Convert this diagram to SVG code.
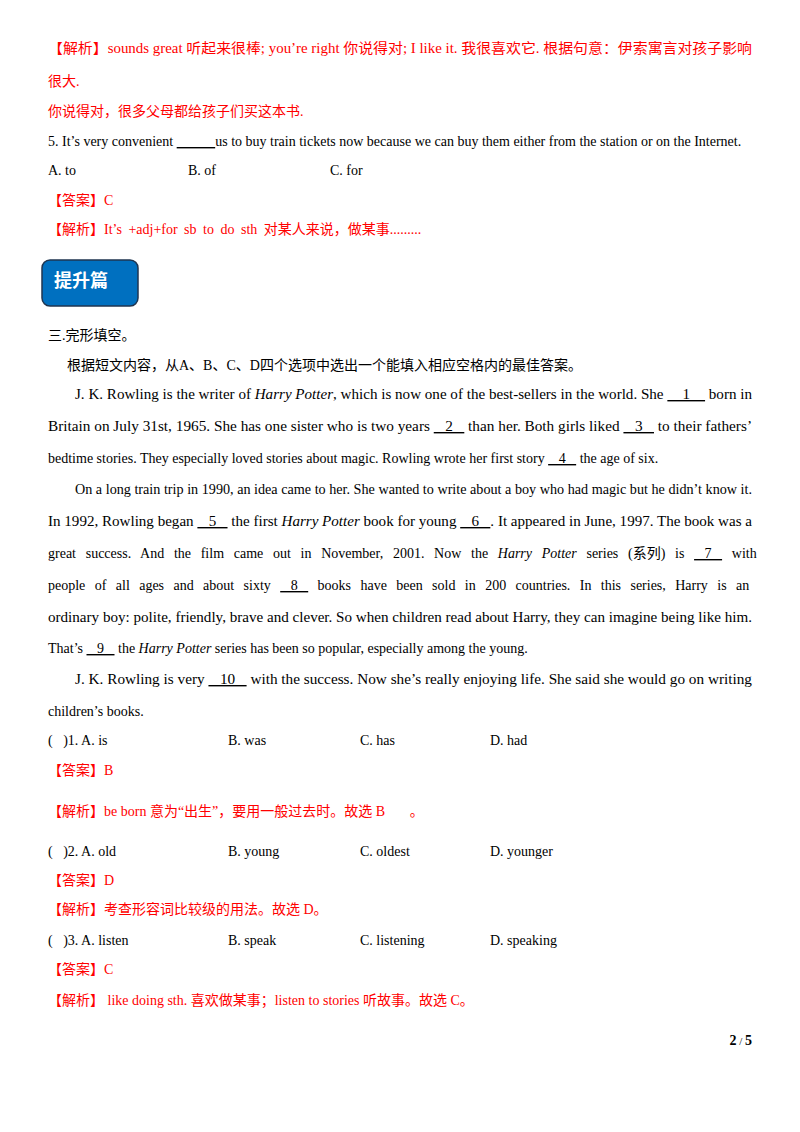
<svg xmlns="http://www.w3.org/2000/svg" width="800" height="1132" viewBox="0 0 800 1132">
<style>
text{font-family:"Liberation Serif","Noto Sans CJK SC",serif;font-size:14px;fill:#000}
.r{fill:#ff0000}
.u{text-decoration:underline}
.i{font-style:italic}
</style>
<rect width="800" height="1132" fill="#fff"/>
<text class="r" x="48" y="53" textLength="704" lengthAdjust="spacingAndGlyphs">【解析】sounds great 听起来很棒; you’re right 你说得对; I like it. 我很喜欢它. 根据句意：伊索寓言对孩子影响</text>
<text class="r" x="48" y="86">很大.</text>
<text class="r" x="48" y="116">你说得对，很多父母都给孩子们买这本书.</text>
<text x="48" y="146">5. It’s very convenient <tspan class="u">&#160;&#160;&#160;&#160;&#160;&#160;&#160;&#160;&#160;&#160;&#160;</tspan>us to buy train tickets now because we can buy them either from the station or on the Internet.</text>
<text x="48" y="175">A. to</text><text x="188" y="175">B. of</text><text x="330" y="175">C. for</text>
<text class="r" x="48" y="205">【答案】C</text>
<text class="r" x="48" y="234" style="word-spacing:3px">【解析】It’s +adj+for sb to do sth 对某人来说，做某事.........</text>
<g id="box"><rect x="42" y="260" width="96" height="46" rx="8" fill="#0070c0" stroke="#1f3550" stroke-width="1.5"/>
<text x="54" y="287" style="font-family:'Noto Sans CJK SC',sans-serif;font-size:18px;font-weight:bold;fill:#fff">提升篇</text></g>
<text x="48" y="340">三.完形填空。</text>
<text x="67" y="370">根据短文内容，从A、B、C、D四个选项中选出一个能填入相应空格内的最佳答案。</text>
<text x="75" y="399" textLength="677" lengthAdjust="spacingAndGlyphs">J. K. Rowling is the writer of <tspan class="i">Harry Potter</tspan>, which is now one of the best-sellers in the world. She <tspan class="u">&#160;&#160;&#160;&#160;1&#160;&#160;&#160;&#160;</tspan>  born in</text>
<text x="48" y="431" textLength="704" lengthAdjust="spacingAndGlyphs">Britain on July 31st, 1965. She has one sister who is two years <tspan class="u">&#160;&#160;&#160;2&#160;&#160;&#160;</tspan>  than her. Both girls liked <tspan class="u">&#160;&#160;&#160;3&#160;&#160;&#160;</tspan>  to their fathers’</text>
<text x="48" y="463">bedtime stories. They especially loved stories about magic. Rowling wrote her first story <tspan class="u">&#160;&#160;&#160;4&#160;&#160;&#160;</tspan>  the age of six.</text>
<text x="75" y="494" textLength="677" lengthAdjust="spacingAndGlyphs">On a long train trip in 1990, an idea came to her. She wanted to write about a boy who had magic but he didn’t know it.</text>
<text x="48" y="526" textLength="704" lengthAdjust="spacingAndGlyphs">In 1992, Rowling began <tspan class="u">&#160;&#160;&#160;5&#160;&#160;&#160;</tspan> the first <tspan class="i">Harry Potter</tspan> book for young <tspan class="u">&#160;&#160;&#160;6&#160;&#160;&#160;</tspan>. It appeared in June, 1997. The book was a</text>
<text x="48" y="558" style="word-spacing:6.2px">great success. And the film came out in November, 2001. Now the <tspan class="i">Harry Potter</tspan> series (系列) is <tspan class="u" style="word-spacing:0">&#160;&#160;&#160;7&#160;&#160;&#160;</tspan> with</text>
<text x="48" y="590" style="word-spacing:5.9px">people of all ages and about sixty <tspan class="u" style="word-spacing:0">&#160;&#160;&#160;8&#160;&#160;&#160;</tspan> books have been sold in 200 countries. In this series, Harry is an</text>
<text x="48" y="622" textLength="704" lengthAdjust="spacingAndGlyphs">ordinary boy: polite, friendly, brave and clever. So when children read about Harry, they can imagine being like him.</text>
<text x="48" y="653">That’s <tspan class="u">&#160;&#160;&#160;9&#160;&#160;&#160;</tspan> the <tspan class="i">Harry Potter</tspan> series has been so popular,  especially  among  the  young.</text>
<text x="75" y="684" textLength="677" lengthAdjust="spacingAndGlyphs">J. K. Rowling is very <tspan class="u">&#160;&#160;&#160;10&#160;&#160;&#160;</tspan> with the success. Now she’s really enjoying life. She said she would go on writing</text>
<text x="48" y="716">children’s books.</text>
<text x="48" y="745">(&#160;&#160;&#160;)1. A. is</text><text x="228" y="745">B. was</text><text x="360" y="745">C. has</text><text x="490" y="745">D. had</text>
<text class="r" x="48" y="775">【答案】B</text>
<text class="r" x="48" y="816">【解析】be born 意为“出生”，要用一般过去时。故选 B&#160;&#160;&#160;&#160;&#160;&#160;&#160;。</text>
<text x="48" y="856">(&#160;&#160;&#160;)2. A. old</text><text x="228" y="856">B. young</text><text x="360" y="856">C. oldest</text><text x="490" y="856">D. younger</text>
<text class="r" x="48" y="885">【答案】D</text>
<text class="r" x="48" y="914">【解析】考查形容词比较级的用法。故选 D。</text>
<text x="48" y="945">(&#160;&#160;&#160;)3. A. listen</text><text x="228" y="945">B. speak</text><text x="360" y="945">C. listening</text><text x="490" y="945">D. speaking</text>
<text class="r" x="48" y="974">【答案】C</text>
<text class="r" x="48" y="1005">【解析】 like doing sth. 喜欢做某事；listen to stories 听故事。故选 C。</text>
<text x="752" y="1045" text-anchor="end" style="font-weight:bold;font-size:14px">2<tspan style="font-size:11px;font-weight:normal"> / </tspan>5</text>
</svg>
